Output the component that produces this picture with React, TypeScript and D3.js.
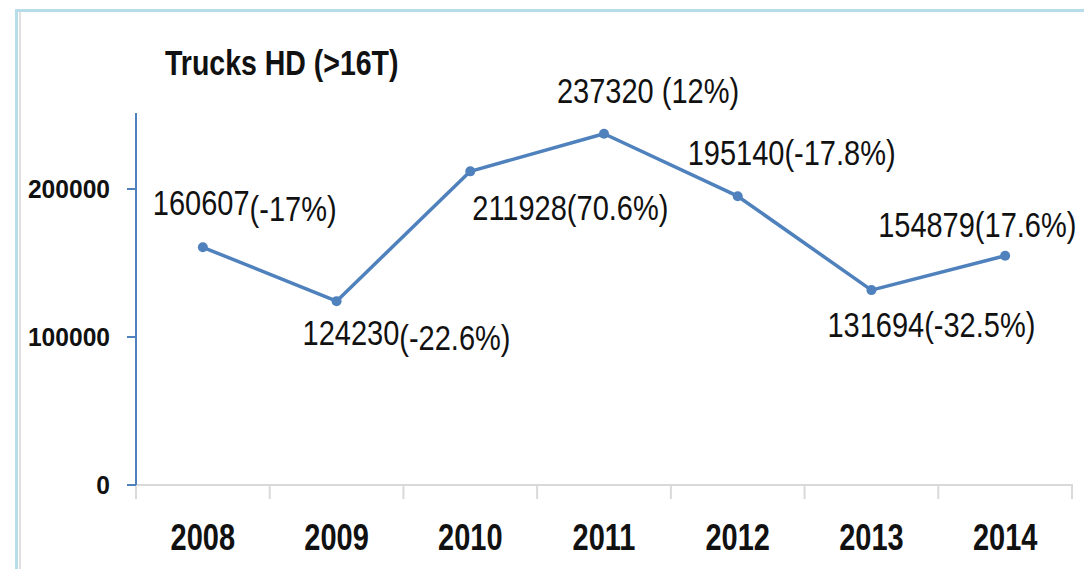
import React from "react";
import * as d3 from "d3";

const years = ["2008", "2009", "2010", "2011", "2012", "2013", "2014"];
const values = [160607, 124230, 211928, 237320, 195140, 131694, 154879];
const pctLabels = ["(-17%)", "(-22.6%)", "(70.6%)", " (12%)", "(-17.8%)", "(-32.5%)", "(17.6%)"];
const yTicks = [0, 100000, 200000];
const title = "Trucks HD (>16T)";

// label placement relative to the point (layout, not data)
const labelOffsets: [number, number][] = [
  [-50, -32],
  [-34, 44],
  [2, 49],
  [-47, -31],
  [-50, -31],
  [-44, 47],
  [-127, -19],
];
const pctShift = [6, 5, 0, 0, 0, 0, 0];

const W = 1084;
const H = 569;
const FONT = "'Liberation Sans', Arial, sans-serif";
const TEXT = "#111";
const BLUE = "#4f81bd";

export default function App() {
  const x = d3.scaleBand<string>().domain(years).range([136, 1072]).padding(0);
  const y = d3.scaleLinear().domain([0, 250000]).range([485, 115]);
  const cx = (i: number) => (x(years[i]) as number) + x.bandwidth() / 2;

  const line = d3
    .line<number>()
    .x((_, i) => cx(i))
    .y((d) => y(d));

  const boundaries = [...years.map((yr) => x(yr) as number), 1072];

  return (
    <svg
      width={W}
      height={H}
      style={{ position: "absolute", left: 0, top: 0, background: "#fff" }}
    >
      {/* frame */}
      <line x1={16.5} y1={10} x2={16.5} y2={H} stroke="#b7dde8" strokeWidth={3} />
      <line x1={15} y1={10.5} x2={W} y2={10.5} stroke="#b7dde8" strokeWidth={3} />
      <line x1={20} y1={12} x2={20} y2={H} stroke="#e0e0e0" strokeWidth={2} />

      {/* title */}
      <g transform={`translate(165,75) scale(1,1.22)`}>
        <text x={0} y={0} fontFamily={FONT} fontWeight="bold" fontSize={28.5} fill={TEXT}>
          {title}
        </text>
      </g>

      {/* x axis */}
      <line x1={136} y1={y(0)} x2={1073} y2={y(0)} stroke="#d9d9d9" strokeWidth={2} />
      {boundaries.map((b, i) => (
        <line key={i} x1={b} y1={y(0)} x2={b} y2={y(0) + 14} stroke="#d9d9d9" strokeWidth={2} />
      ))}
      {years.map((yr, i) => (
        <g key={yr} transform={`translate(${cx(i)},550) scale(1,1.29)`}>
          <text
            x={0}
            y={0}
            textAnchor="middle"
            fontFamily={FONT}
            fontWeight="bold"
            fontSize={29}
            fill={TEXT}
          >
            {yr}
          </text>
        </g>
      ))}

      {/* y axis */}
      <line x1={136} y1={113} x2={136} y2={y(0)} stroke={BLUE} strokeWidth={2} />
      {yTicks.map((t) => (
        <g key={t}>
          <line x1={127} y1={y(t)} x2={136} y2={y(t)} stroke={BLUE} strokeWidth={2} />
          <g transform={`translate(110,${y(t) + 9}) scale(1,1.08)`}>
            <text
              x={0}
              y={0}
              textAnchor="end"
              fontFamily={FONT}
              fontWeight="bold"
              fontSize={24.6}
              fill={TEXT}
            >
              {t}
            </text>
          </g>
        </g>
      ))}

      {/* series line */}
      <path d={line(values) || ""} fill="none" stroke={BLUE} strokeWidth={3.5} strokeLinejoin="round" />
      {values.map((v, i) => (
        <circle key={i} cx={cx(i)} cy={y(v)} r={5} fill={BLUE} />
      ))}

      {/* data labels */}
      {values.map((v, i) => (
        <g
          key={i}
          transform={`translate(${cx(i) + labelOffsets[i][0]},${y(v) + labelOffsets[i][1]}) scale(1,1.2)`}
        >
          <text x={0} y={0} fontFamily={FONT} fontSize={29} fill={TEXT}>
            {String(v)}
            <tspan dy={pctShift[i] / 1.2}>{pctLabels[i]}</tspan>
          </text>
        </g>
      ))}
    </svg>
  );
}
